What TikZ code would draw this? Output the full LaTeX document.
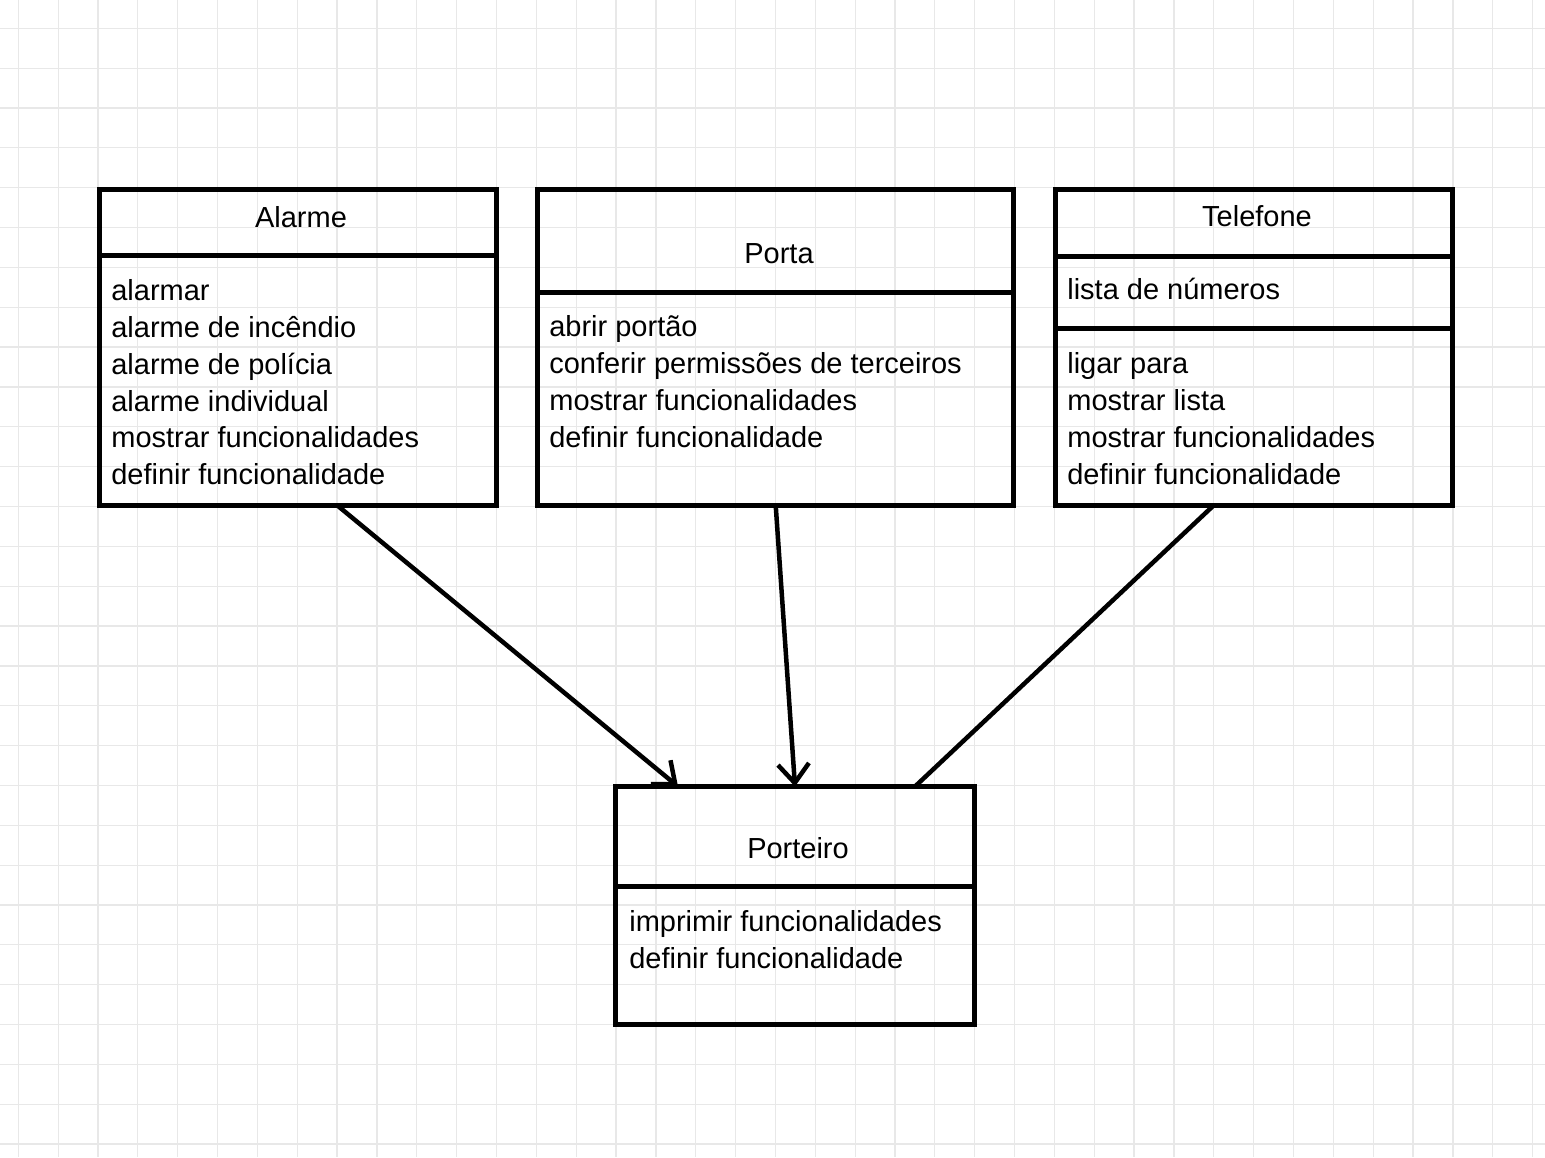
\documentclass[tikz,border=0pt]{standalone}
\usepackage{fontspec}
\setmainfont{Liberation Sans}
\usetikzlibrary{arrows.meta}

\tikzset{
    gridline/.style={draw=black!9, line width=0.025cm},
    classbox/.style={rectangle, draw, line width=0.1cm, outer sep=0pt, inner sep=0pt},
    divider/.style={line width=0.1cm},
    title/.style={anchor=base, inner sep=0pt},
    members/.style={anchor=north west, align=left, inner sep=0pt},
    link/.style={line width=0.09cm},
    head/.style={-{Straight Barb[length=0.38cm, width=0.62cm]}}
}

\begin{document}
\begin{tikzpicture}[x=0.02cm, y=-0.02cm, font=\fontsize{16.5pt}{21pt}\selectfont]
    % Background and grid
    \fill[white] (0,0) rectangle (1545,1157);
    \useasboundingbox (0,0) rectangle (1545,1157);
    \foreach \i in {0,...,38} \draw[gridline] (18.3+39.85*\i,0) -- (18.3+39.85*\i,1157);
    \foreach \i in {0,...,28} \draw[gridline] (0,28.3+39.85*\i) -- (1545,28.3+39.85*\i);

    % Draw class boxes
    \node[classbox, minimum width=7.95cm, minimum height=6.33cm] (alarme) at (298.25,347.75) {};
    \node[classbox, minimum width=9.53cm, minimum height=6.33cm] (porta) at (775.75,347.75) {};
    \node[classbox, minimum width=7.94cm, minimum height=6.33cm] (telefone) at (1254,347.75) {};
    \node[classbox, minimum width=7.18cm, minimum height=4.76cm] (porteiro) at (795,905.5) {};

    % Draw dividers
    \draw[divider] (alarme.west |- 0,255.5) -- (alarme.east |- 0,255.5);
    \draw[divider] (porta.west |- 0,292.5) -- (porta.east |- 0,292.5);
    \draw[divider] (telefone.west |- 0,256.5) -- (telefone.east |- 0,256.5);
    \draw[divider] (telefone.west |- 0,328.5) -- (telefone.east |- 0,328.5);
    \draw[divider] (porteiro.west |- 0,886.5) -- (porteiro.east |- 0,886.5);

    % Titles
    \node[title] (alarme title) at (301,227) {Alarme};
    \node[title] (porta title) at (779,263) {Porta};
    \node[title] (telefone title) at (1257,226) {Telefone};
    \node[title] (porteiro title) at (798,858) {Porteiro};

    % Members
    \node[members] (alarme ops) at (111,274.2) {\strut alarmar\\alarme de incêndio\\alarme de polícia\\alarme individual\\mostrar funcionalidades\\definir funcionalidade};
    \node[members] (porta ops) at (549,310.2) {\strut abrir portão\\conferir permissões de terceiros\\mostrar funcionalidades\\definir funcionalidade};
    \node[members] (telefone attr) at (1067,273.2) {\strut lista de números};
    \node[members] (telefone ops) at (1067,347.2) {\strut ligar para\\mostrar lista\\mostrar funcionalidades\\definir funcionalidade};
    \node[members] (porteiro ops) at (629,905.2) {\strut imprimir funcionalidades\\definir funcionalidade};

    % Draw connectors
    \draw[link, head] ([xshift=0.795cm]alarme.south) -- ([xshift=-2.34cm]porteiro.north);
    \draw[link, head] (porta.south) -- (porteiro.north);
    \draw[link] ([xshift=-0.82cm]telefone.south) -- ([xshift=2.4cm]porteiro.north);
\end{tikzpicture}
\end{document}
